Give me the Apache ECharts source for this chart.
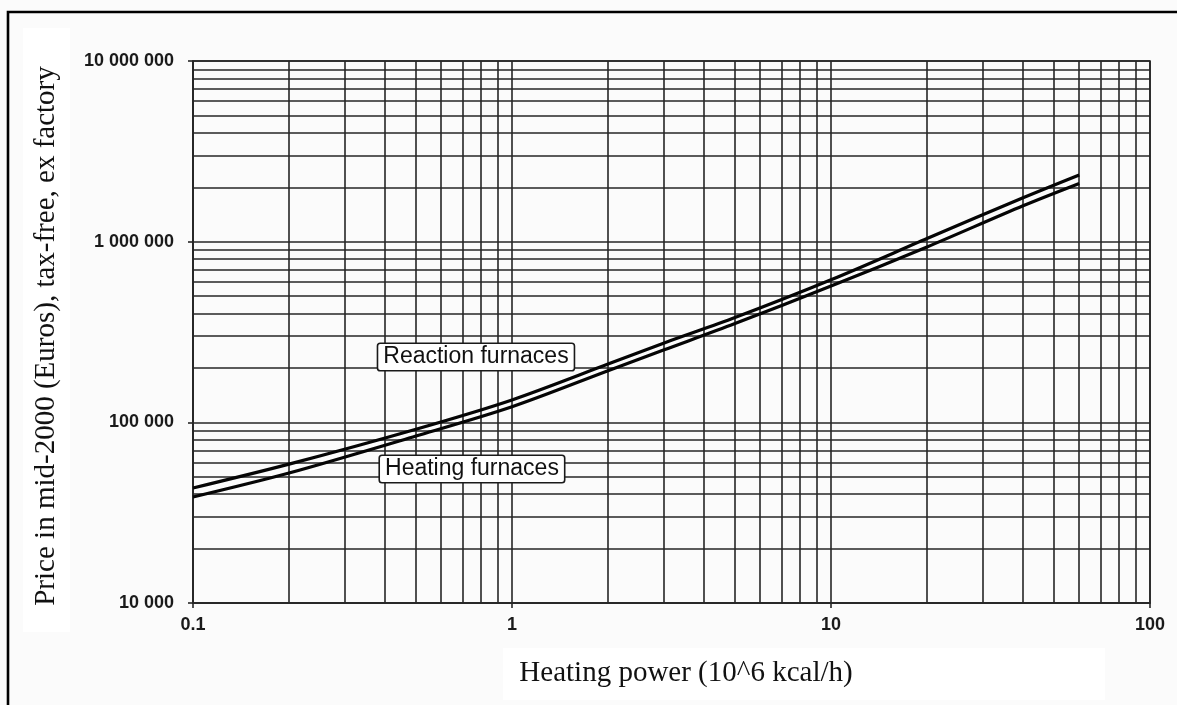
<!DOCTYPE html>
<html>
<head>
<meta charset="utf-8">
<title>Furnace price vs heating power</title>
<script src="https://cdn.jsdelivr.net/npm/echarts@6/dist/echarts.min.js"></script>
<style>
  html, body { margin: 0; padding: 0; background: #fbfbfb; }
  #chart { width: 1177px; height: 705px; }
</style>
</head>
<body>
<div id="chart"></div>
<script>
// Heating power, 10^6 kcal/h
const power = [0.1, 0.2, 0.5, 1, 2, 3, 5, 10, 20, 40, 60];
// Price in mid-2000 euros
const reactionPrice = [43300, 58700, 91600, 133000, 210000, 275000, 380000, 615000, 1040000, 1750000, 2340000];
const heatingPrice  = [38600, 52400, 84000, 122000, 193000, 252000, 352000, 568000, 935000, 1580000, 2100000];

// Log-axis decades and the 2..9 gridline multipliers inside each one
const xDecades = [0.1, 1, 10];
const yDecades = [10000, 100000, 1000000];
const minorSteps = [2, 3, 4, 5, 6, 7, 8, 9];

const curveLabels = [
  { text: 'Reaction furnaces', x: 0.771, y: 229900 },
  { text: 'Heating furnaces',  x: 0.749, y: 55160 }
];

const xMinor = [];
xDecades.forEach(d => minorSteps.forEach(m => xMinor.push(+(d * m).toPrecision(3))));
const yMinor = [];
yDecades.forEach(d => minorSteps.forEach(m => yMinor.push(d * m)));

const gridColor = '#262626';
const gridWidth = 1.6;

function spaced(v) {
  return String(Math.round(v)).replace(/\B(?=(\d{3})+(?!\d))/g, ' ');
}

const chart = echarts.init(document.getElementById('chart'), null, { renderer: 'canvas' });

const labelStyle = {
  show: true,
  position: 'inside',
  color: '#111',
  fontFamily: 'Liberation Sans, Arial, sans-serif',
  fontSize: 23,
  backgroundColor: '#ffffff',
  borderColor: '#1a1a1a',
  borderWidth: 1.6,
  borderRadius: 2,
  padding: [2, 5, 1, 5]
};

chart.setOption({
  animation: false,
  backgroundColor: '#fbfbfb',
  grid: {
    left: 193, right: 27, top: 61, bottom: 102,
    show: true, borderColor: gridColor, borderWidth: gridWidth,
    backgroundColor: 'transparent'
  },
  xAxis: {
    type: 'log', logBase: 10, min: 0.1, max: 100,
    axisLine: { show: true, lineStyle: { color: gridColor, width: gridWidth } },
    axisTick: { show: true, length: 5, lineStyle: { color: gridColor, width: gridWidth } },
    splitLine: { show: true, lineStyle: { color: gridColor, width: gridWidth } },
    minorTick: { show: false }, minorSplitLine: { show: false },
    axisLabel: {
      margin: 13, color: '#1a1a1a', fontSize: 18, fontWeight: 'bold',
      fontFamily: 'Liberation Sans, Arial, sans-serif',
      formatter: v => String(+v.toPrecision(3))
    }
  },
  yAxis: {
    type: 'log', logBase: 10, min: 10000, max: 10000000,
    axisLine: { show: true, lineStyle: { color: gridColor, width: gridWidth } },
    axisTick: { show: true, length: 5, lineStyle: { color: gridColor, width: gridWidth } },
    splitLine: { show: true, lineStyle: { color: gridColor, width: gridWidth } },
    minorTick: { show: false }, minorSplitLine: { show: false },
    axisLabel: {
      margin: 19, color: '#1a1a1a', fontSize: 18, fontWeight: 'bold',
      fontFamily: 'Liberation Sans, Arial, sans-serif',
      formatter: v => spaced(v)
    }
  },
  graphic: [
    // white patches behind the axis titles
    { type: 'rect', z: -1, shape: { x: 23, y: 28, width: 47, height: 604 }, style: { fill: '#ffffff' } },
    { type: 'rect', z: -1, shape: { x: 503, y: 648, width: 602, height: 52 }, style: { fill: '#ffffff' } },
    // outer frame
    { type: 'rect', z: 100, shape: { x: 8, y: 12, width: 1200, height: 720 },
      style: { fill: 'none', stroke: '#000', lineWidth: 2.6 } },
    // axis titles
    { type: 'text', x: 46, y: 336, rotation: Math.PI / 2, z: 50,
      style: { text: 'Price in mid-2000 (Euros), tax-free, ex factory',
        fill: '#111', font: '29px "Liberation Serif", "Times New Roman", serif',
        align: 'center', verticalAlign: 'middle' } },
    { type: 'text', x: 686, y: 673, z: 50,
      style: { text: 'Heating power (10^6 kcal/h)',
        fill: '#111', font: '29px "Liberation Serif", "Times New Roman", serif',
        align: 'center', verticalAlign: 'middle' } }
  ],
  series: [
    {
      name: 'Minor grid',
      type: 'line',
      data: [],
      silent: true,
      markLine: {
        silent: true,
        symbol: ['none', 'none'],
        label: { show: false },
        lineStyle: { color: gridColor, width: gridWidth, type: 'solid' },
        emphasis: { disabled: true },
        data: xMinor.map(v => ({ xAxis: v })).concat(yMinor.map(v => ({ yAxis: v })))
      },
      z: 1
    },
    {
      name: 'Reaction furnaces',
      type: 'line',
      smooth: 0.3,
      showSymbol: false,
      data: power.map((p, i) => [p, reactionPrice[i]]),
      lineStyle: { color: '#050505', width: 3.2 },
      z: 5,
      markPoint: {
        symbol: 'rect', symbolSize: 0, silent: true,
        label: labelStyle,
        data: [{ coord: [curveLabels[0].x, curveLabels[0].y], value: curveLabels[0].text,
          label: { formatter: curveLabels[0].text } }]
      }
    },
    {
      name: 'Heating furnaces',
      type: 'line',
      smooth: 0.3,
      showSymbol: false,
      data: power.map((p, i) => [p, heatingPrice[i]]),
      lineStyle: { color: '#050505', width: 3.2 },
      z: 5,
      markPoint: {
        symbol: 'rect', symbolSize: 0, silent: true,
        label: labelStyle,
        data: [{ coord: [curveLabels[1].x, curveLabels[1].y], value: curveLabels[1].text,
          label: { formatter: curveLabels[1].text } }]
      }
    }
  ]
});
</script>
</body>
</html>
